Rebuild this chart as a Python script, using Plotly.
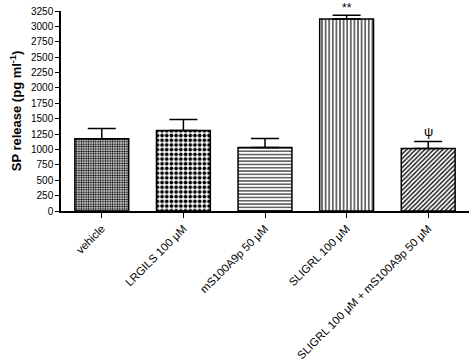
import plotly.graph_objects as go

categories = ["vehicle", "LRGILS 100 μM", "mS100A9p 50 μM", "SLIGRL 100 μM",
              "SLIGRL 100 μM + mS100A9p 50 μM"]
values = [1175, 1310, 1030, 3120, 1015]
errors = [165, 175, 150, 60, 115]
shapes = [".", ".", "-", "|", "/"]
sizes = [2.4, 4.7, 3.3, 3.6, 3.2]
solidity = [0.5, 0.5, 0.3, 0.3, 0.4]
y_ticks = list(range(0, 3251, 250))
markers = {3: "**", 4: "ψ"}

fig = go.Figure()
fig.add_trace(go.Bar(
    x=list(range(len(categories))), y=values, width=0.66,
    marker=dict(color="white", line=dict(color="black", width=1.5),
                pattern=dict(shape=shapes, size=sizes, solidity=solidity,
                             fgcolor="black", bgcolor="white", fillmode="replace")),
    error_y=dict(type="data", array=errors, arrayminus=[0]*5, symmetric=False,
                 color="black", thickness=1.5, width=14),
))
for i, t in markers.items():
    fig.add_annotation(x=i, y=values[i] + errors[i], text=t, showarrow=False,
                       yanchor="bottom", yshift=0 if t == "ψ" else -2,
                       font=dict(size=13 if t == "ψ" else 12, color="black",
                                 family="Liberation Sans"))
fig.update_layout(
    width=474, height=364, margin=dict(l=61, r=5, t=11, b=153),
    plot_bgcolor="white", paper_bgcolor="white", showlegend=False,
    font=dict(family="Liberation Sans, Arial", size=11, color="black"),
)
fig.update_xaxes(range=[-0.5, 4.5], tickmode="array", tickvals=list(range(5)),
                 ticktext=categories, tickangle=-45, showline=True, linecolor="black",
                 linewidth=1.5, ticks="outside", ticklen=5, tickwidth=1.2,
                 tickcolor="black", showgrid=False, zeroline=False, automargin=False,
                 tickfont=dict(size=11.3))
fig.update_yaxes(range=[0, 3250], tickvals=y_ticks, showline=True, linecolor="black",
                 linewidth=1.5, ticks="outside", ticklen=4, tickwidth=1.2,
                 tickcolor="black", showgrid=False, zeroline=False, automargin=False,
                 tickfont=dict(size=10),
                 title=dict(text="<b>SP release (pg ml<sup>-1</sup>)</b>",
                            font=dict(size=13), standoff=6))
fig.write_html("out.html", config={"displayModeBar": False},
               post_script="document.body.style.margin='0';document.body.style.overflow='hidden';")
